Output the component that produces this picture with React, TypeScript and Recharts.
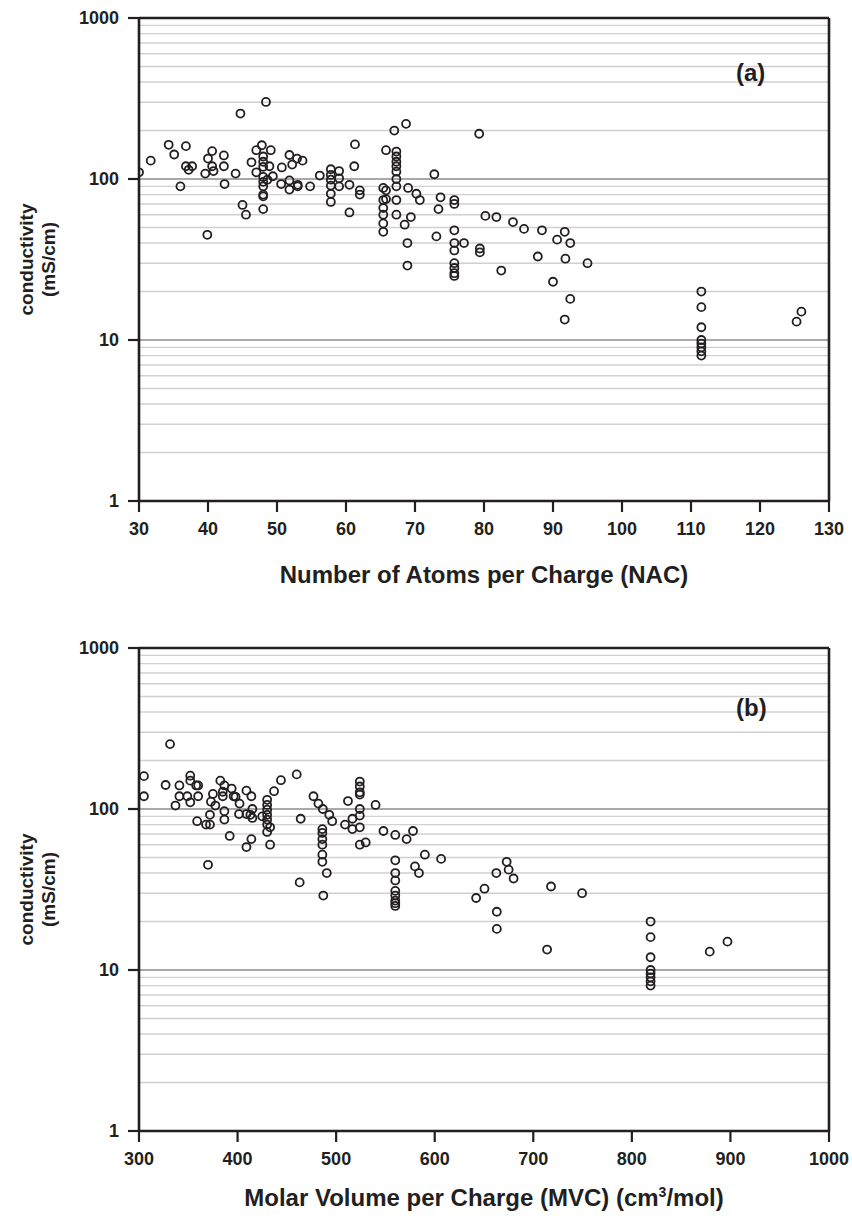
import React from "react";
import {
  ScatterChart,
  Scatter,
  XAxis,
  YAxis,
  ReferenceLine,
  Label,
} from "recharts";

// conductivity (mS/cm) vs number of atoms per charge
const NAC_POINTS: [number, number][] = [
  [30, 110], [31.7, 130], [34.3, 163], [35.1, 142], [36.8, 160], [36.8, 120], [37.7, 120], [37.2, 114],
  [36, 90], [39.6, 108], [40, 134], [40.6, 149], [40.6, 120], [40.8, 112], [39.9, 45], [42.3, 140],
  [42.3, 120], [42.4, 93], [44, 108], [44.7, 255], [45, 69], [45.5, 60], [46.3, 127], [47, 151],
  [47, 110], [47.8, 162], [48.4, 301], [49.1, 151], [48, 138], [48, 128], [48, 119], [48, 103],
  [48, 96], [48, 90], [48, 80], [48, 78], [48, 65], [48.9, 120], [48.6, 99], [49.4, 104],
  [50.7, 118], [51.8, 141], [52.9, 134], [53.7, 130], [52.2, 123], [50.6, 93], [51.8, 98], [51.8, 86],
  [53, 92], [53, 90], [54.8, 90], [56.2, 105], [57.8, 115], [57.8, 106], [57.8, 99], [57.8, 91],
  [57.8, 81], [57.8, 72], [59, 112], [59, 101], [59, 90], [60.5, 92], [60.5, 62], [61.3, 164],
  [61.2, 120], [62, 85], [62, 80], [65.4, 88], [65.4, 74], [65.4, 66], [65.4, 60], [65.4, 53],
  [65.4, 47], [65.8, 85], [65.8, 75], [65.8, 151], [67, 200], [68.7, 220], [67.3, 148], [67.3, 138],
  [67.3, 128], [67.3, 120], [67.3, 111], [67.3, 100], [67.3, 90], [67.3, 74], [67.3, 60], [69, 88],
  [69.4, 58], [68.5, 52], [68.9, 40], [68.9, 29], [70.2, 81], [70.7, 74], [72.8, 107], [73.7, 77],
  [73.4, 65], [73.1, 44], [75.7, 74], [75.7, 70], [75.7, 48], [75.7, 40], [75.7, 36], [75.7, 30],
  [75.7, 28], [75.7, 26], [75.7, 25], [77.1, 40], [79.3, 191], [79.4, 37], [79.4, 35], [80.2, 59],
  [81.8, 58], [82.5, 27], [84.2, 54], [85.8, 49], [88.4, 48], [87.8, 33], [90, 23], [90.6, 42],
  [91.7, 47], [92.5, 40], [91.8, 32], [92.5, 18], [91.7, 13.4], [95, 30], [111.5, 20], [111.5, 16],
  [111.5, 12], [111.5, 10], [111.5, 9.5], [111.5, 9], [111.5, 8.5], [111.5, 8], [126, 15], [125.3, 13],
];

// conductivity (mS/cm) vs molar volume per charge
const MVC_POINTS: [number, number][] = [
  [305, 160], [305, 120], [331.5, 253], [327, 141], [337, 105], [341, 140], [341, 120], [349, 120],
  [352, 161], [352, 150], [352, 110], [358, 140], [360, 140], [360, 120], [359, 84], [368, 80],
  [372, 80], [372, 92], [370, 45], [375, 124], [373, 111], [377.5, 105], [382.5, 150], [386.6, 140],
  [385, 128], [385, 120], [386.6, 97], [386.6, 86], [392, 68], [394, 134], [396, 120], [398, 119],
  [402, 108], [401.5, 93], [409, 130], [414, 120], [409, 93], [413, 92], [415, 100], [415, 88],
  [409, 58], [414, 65], [430, 114], [430, 106], [430, 99], [430, 92], [430, 86], [430, 80],
  [430, 72], [425, 90], [433, 77], [433, 60], [437, 129], [444, 151], [460, 164], [464, 87],
  [463, 35], [477, 120], [482, 108], [486.5, 100], [493, 92], [496, 84], [486, 75], [486, 71],
  [486, 65], [486, 60], [486, 52], [486, 47], [490.5, 40], [487, 29], [509, 80], [512, 112],
  [516.5, 87], [516.5, 75], [524, 148], [524, 138], [524, 127], [524, 123], [524, 100], [524, 91],
  [524, 77], [524, 60], [530, 62], [540, 106], [548, 73], [560, 69], [571.5, 65], [578, 73],
  [560, 48], [560, 40], [560, 36], [560, 31], [560, 29], [560, 27], [560, 26], [560, 25],
  [580, 44], [584, 40], [590, 52], [606.5, 49], [642, 28], [650.5, 32], [662.5, 40], [663, 23],
  [663, 18], [673, 47], [675, 42], [680, 37], [714, 13.4], [718, 33], [749.5, 30], [819, 20],
  [819, 16], [819, 12], [819, 10], [819, 9.5], [819, 9], [819, 8.5], [819, 8], [879, 13], [897, 15],
];

const Y_TICKS = [1, 10, 100, 1000];
const MAJOR_GRID = [10, 100];
const MINOR_GRID = [2, 3, 4, 5, 6, 7, 8, 9, 20, 30, 40, 50, 60, 70, 80, 90, 200, 300, 400, 500, 600, 700, 800, 900];
const NAC_TICKS = [30, 40, 50, 60, 70, 80, 90, 100, 110, 120, 130];
const MVC_TICKS = [300, 400, 500, 600, 700, 800, 900, 1000];

const INK = "#231f20";
const FONT = "'Liberation Sans', Arial, sans-serif";
const tickStyle = { fill: INK, fontSize: 18, fontWeight: 700, fontFamily: FONT };

function OpenCircle(props: any) {
  const { cx, cy } = props;
  if (cx == null || cy == null) return null;
  return <circle cx={cx} cy={cy} r={4} fill="none" stroke={INK} strokeWidth={1.8} />;
}

function YTitle(props: any) {
  const vb = props.viewBox || {};
  const cy = vb.y + vb.height / 2;
  return (
    <text
      transform={`translate(37, ${cy}) rotate(-90)`}
      textAnchor="middle"
      fill={INK}
      fontSize={19}
      fontWeight={700}
      fontFamily={FONT}
    >
      <tspan x={0} dy={-4}>conductivity</tspan>
      <tspan x={0} dy={22}>(mS/cm)</tspan>
    </text>
  );
}

function XTitle(props: any) {
  const vb = props.viewBox || {};
  const cx = vb.x + vb.width / 2;
  const y = vb.y + props.dy;
  return (
    <text x={cx} y={y} textAnchor="middle" fill={INK} fontSize={24} fontWeight={700} fontFamily={FONT}>
      {props.sup ? (
        <>
          {props.text}
          <tspan dy={-9} fontSize={14}>3</tspan>
          <tspan dy={9}>{props.tail}</tspan>
        </>
      ) : (
        props.text
      )}
    </text>
  );
}

function Panel({
  points,
  xTicks,
  title,
  sup,
  tail,
  tag,
  marginTop,
  titleDy,
  tagTop,
}: {
  points: [number, number][];
  xTicks: number[];
  title: string;
  sup?: boolean;
  tail?: string;
  tag: string;
  marginTop: number;
  titleDy: number;
  tagTop: number;
}) {
  const data = points.map(([x, y]) => ({ x, y }));
  const xMin = xTicks[0];
  const xMax = xTicks[xTicks.length - 1];
  const height = marginTop + 483 + 88;
  return (
    <div style={{ position: "relative", width: 852, height }}>
      <ScatterChart width={852} height={height} margin={{ top: marginTop, right: 23, bottom: 0, left: 0 }}>
        {MINOR_GRID.map((v) => (
          <ReferenceLine key={"m" + v} y={v} stroke="#d0d0d0" strokeWidth={1.4} />
        ))}
        {MAJOR_GRID.map((v) => (
          <ReferenceLine key={"M" + v} y={v} stroke="#555" strokeWidth={1.2} />
        ))}
        <ReferenceLine y={1000} stroke={INK} strokeWidth={2.6} />
        <ReferenceLine x={xMax} stroke={INK} strokeWidth={2.6} />
        <XAxis
          type="number"
          dataKey="x"
          domain={[xMin, xMax]}
          ticks={xTicks}
          interval={0}
          height={88}
          tickSize={11}
          tickMargin={10}
          tick={tickStyle}
          axisLine={{ stroke: INK, strokeWidth: 2.6 }}
          tickLine={{ stroke: INK, strokeWidth: 2.2 }}
          allowDataOverflow
        >
          <Label content={<XTitle text={title} sup={sup} tail={tail} dy={titleDy} />} />
        </XAxis>
        <YAxis
          type="number"
          dataKey="y"
          scale="log"
          domain={[1, 1000]}
          ticks={Y_TICKS}
          interval={0}
          width={139}
          tickSize={11}
          tickMargin={9}
          tick={tickStyle}
          axisLine={{ stroke: INK, strokeWidth: 2.6 }}
          tickLine={{ stroke: INK, strokeWidth: 2.2 }}
          allowDataOverflow
        >
          <Label content={<YTitle />} />
        </YAxis>
        <Scatter data={data} shape={<OpenCircle />} isAnimationActive={false} />
      </ScatterChart>
      <div
        style={{
          position: "absolute",
          left: 736,
          top: marginTop + tagTop,
          fontFamily: FONT,
          fontWeight: 700,
          fontSize: 24,
          lineHeight: "28px",
          color: INK,
        }}
      >
        {tag}
      </div>
    </div>
  );
}

export default function App() {
  return (
    <div style={{ position: "absolute", left: 0, top: 0, width: 852, height: 1220, background: "#fff" }}>
      <Panel
        points={NAC_POINTS}
        xTicks={NAC_TICKS}
        title="Number of Atoms per Charge (NAC)"
        tag="(a)"
        marginTop={18}
        titleDy={82}
        tagTop={41}
      />
      <Panel
        points={MVC_POINTS}
        xTicks={MVC_TICKS}
        title="Molar Volume per Charge (MVC) (cm"
        sup
        tail="/mol)"
        tag="(b)"
        marginTop={59}
        titleDy={75}
        tagTop={46}
      />
    </div>
  );
}
